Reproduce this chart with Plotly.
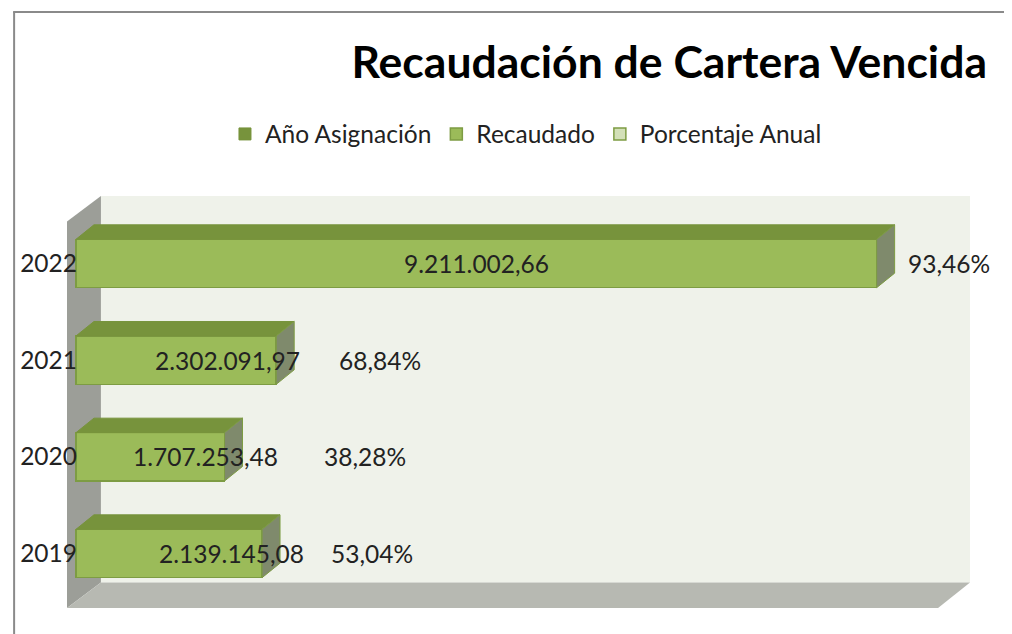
import plotly.graph_objects as go

# ---------------- data ----------------
years = [2019, 2020, 2021, 2022]
anio_asignacion = [2019, 2020, 2021, 2022]
recaudado = [2139145.08, 1707253.48, 2302091.97, 9211002.66]
porcentaje = [53.04, 38.28, 68.84, 93.46]

title_text = "Recaudación de Cartera Vencida"
series_names = ["Año Asignación", "Recaudado", "Porcentaje Anual"]

# ---------------- geometry (page pixels) ----------------
OFF = 8                    # default body margin of the page
PAGE_W, PAGE_H = 1012, 634
W, H = PAGE_W - OFF, PAGE_H - OFF
PL, PR, PT, PB = 65, 970, 196, 608
X0PIX = 74                 # pixel of value 0
SCALE = 87.1 / 1e6         # px per unit on value axis
YPIX0 = 553.5              # pixel of first category
YSTEP = 96.67              # px per category

xmin = -(X0PIX - PL) / SCALE
xmax = (PR - X0PIX) / SCALE
ymin = (YPIX0 - PB) / YSTEP
ymax = (YPIX0 - PT) / YSTEP


def dxu(px):
    return px / SCALE


def dyu(px):
    return px / YSTEP


BAR_W = 0.5
BDX, BDY = dxu(18), dyu(14.5)
WDX, WDY = dxu(34), dyu(25.5)

FRONT = "#9BBB59"
EDGE = "#7D9C43"
TOP = "#77933C"
SIDE = "#7F8A6C"
FONT = "Lato"
TXT = "#222222"
FS = 24.5

ypos = list(range(len(years)))

fig = go.Figure()

# stacked series (first and last are tiny on this scale)
fig.add_trace(go.Bar(y=ypos, x=anio_asignacion, orientation="h", width=BAR_W,
                     name=series_names[0], marker=dict(color=TOP, line=dict(color=TOP, width=1)),
                     hoverinfo="skip"))
fig.add_trace(go.Bar(y=ypos, x=recaudado, orientation="h", width=BAR_W,
                     name=series_names[1], marker=dict(color=FRONT, line=dict(color=EDGE, width=1.5))))
fig.add_trace(go.Bar(y=ypos, x=porcentaje, orientation="h", width=BAR_W,
                     name=series_names[2], marker=dict(color="#D3E0B8", line=dict(color=EDGE, width=1.5)),
                     hoverinfo="skip"))

# 3D faces of the bars
for yi, a, v, p in zip(ypos, anio_asignacion, recaudado, porcentaje):
    end = a + v + p
    top = yi + BAR_W / 2
    bot = yi - BAR_W / 2
    fig.add_trace(go.Scatter(
        x=[0, end, end + BDX, BDX, 0], y=[top, top, top + BDY, top + BDY, top],
        mode="lines", fill="toself", fillcolor=TOP, line=dict(color=TOP, width=1),
        showlegend=False, hoverinfo="skip"))
    fig.add_trace(go.Scatter(
        x=[end, end, end + BDX, end + BDX, end], y=[bot, top, top + BDY, bot + BDY, bot],
        mode="lines", fill="toself", fillcolor=SIDE, line=dict(color=EDGE, width=1),
        showlegend=False, hoverinfo="skip"))

# walls / floor
shapes = [
    dict(type="rect", xref="x", yref="y", x0=xmin + WDX, x1=xmax, y0=ymin + WDY, y1=ymax,
         fillcolor="#EFF2EA", line=dict(width=0), layer="below"),
    dict(type="path", xref="x", yref="y",
         path=f"M{xmin},{ymin} L{xmin},{ymax - WDY} L{xmin + WDX},{ymax} L{xmin + WDX},{ymin + WDY} Z",
         fillcolor="#9C9E98", line=dict(width=0), layer="below"),
    dict(type="path", xref="x", yref="y",
         path=f"M{xmin},{ymin} L{xmax - dxu(32)},{ymin} L{xmax},{ymin + WDY} L{xmin + WDX},{ymin + WDY} Z",
         fillcolor="#B7B9B2", line=dict(width=0), layer="below"),
]

# outer frame (left and top border lines)
pw, ph = PR - PL, PB - PT


def xp(px):
    return (px - PL) / pw


def yp(py):
    return (PB - py) / ph


shapes.append(dict(type="line", xref="paper", yref="paper", x0=xp(12), x1=xp(12), y0=yp(12), y1=yp(634),
                   line=dict(color="#8A8A8A", width=2)))
shapes.append(dict(type="line", xref="paper", yref="paper", x0=xp(11), x1=xp(1012), y0=yp(12), y1=yp(12),
                   line=dict(color="#8A8A8A", width=2)))


def es_num(v):
    s = f"{v:,.2f}"
    return s.replace(",", "X").replace(".", ",").replace("X", ".")


def es_pct(v):
    return f"{v:.2f}".replace(".", ",") + "%"


val_shift = [62, 55, 51, 0]
pct_shift = [110, 140, 104, 72]
annotations = []
for yi, a, v, p, s1, s2 in zip(ypos, anio_asignacion, recaudado, porcentaje, val_shift, pct_shift):
    annotations.append(dict(x=a + v / 2, y=yi, xref="x", yref="y", text=es_num(v), showarrow=False,
                            xanchor="center", yanchor="middle", xshift=s1,
                            font=dict(family=FONT, size=FS, color=TXT)))
    annotations.append(dict(x=a + v + p, y=yi, xref="x", yref="y", text=es_pct(p), showarrow=False,
                            xanchor="center", yanchor="middle", xshift=s2,
                            font=dict(family=FONT, size=FS, color=TXT)))

fig.update_layout(
    width=W, height=H,
    margin=dict(l=PL - OFF, r=PAGE_W - PR, t=PT - OFF, b=PAGE_H - PB, pad=0),
    paper_bgcolor="white", plot_bgcolor="rgba(0,0,0,0)",
    barmode="stack",
    title=dict(text=title_text, x=(987 - OFF) / W, xanchor="right", xref="container",
               y=1 - (62 - OFF) / H, yanchor="middle", yref="container",
               font=dict(family=FONT, size=44.5, color="#000000", weight="bold")),
    legend=dict(orientation="h", x=(525 - PL) / pw, xanchor="center", y=yp(134), yanchor="middle",
                font=dict(family=FONT, size=FS, color=TXT), traceorder="normal",
                itemwidth=30, bgcolor="rgba(0,0,0,0)"),
    xaxis=dict(range=[xmin, xmax], visible=False, fixedrange=True),
    yaxis=dict(range=[ymin, ymax], tickvals=ypos, ticktext=[str(y) for y in years],
               showgrid=False, zeroline=False, showline=False, ticks="",
               ticklabelstandoff=-11, tickfont=dict(family=FONT, size=FS, color=TXT)),
    shapes=shapes, annotations=annotations, showlegend=True,
)

fig.write_html("out.html")
